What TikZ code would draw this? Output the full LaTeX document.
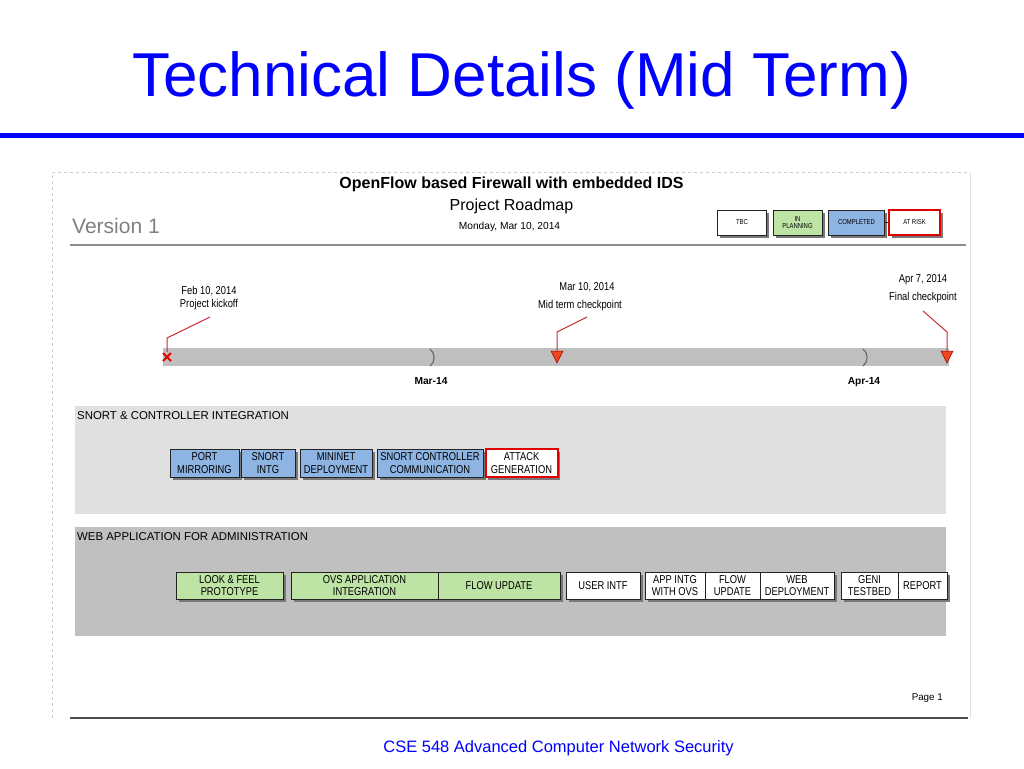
\documentclass[tikz,border=0pt]{standalone}
\usepackage{fontspec}
\setmainfont{Liberation Sans}
\newfontfamily\nar[FakeStretch=0.82]{Liberation Sans}
\usetikzlibrary{shadows}
\definecolor{titleblue}{RGB}{0,0,255}
\definecolor{boxblue}{RGB}{141,180,226}
\definecolor{boxgreen}{RGB}{190,228,165}
\definecolor{riskred}{RGB}{225,0,0}
\definecolor{boxborder}{RGB}{35,35,35}
\definecolor{shadowgray}{RGB}{120,120,120}
\definecolor{snortbg}{RGB}{224,224,224}
\definecolor{webbg}{RGB}{192,192,192}
\definecolor{bargray}{RGB}{191,191,191}
\definecolor{calloutred}{RGB}{200,45,55}
\definecolor{markred}{RGB}{240,70,30}
\definecolor{framegray}{RGB}{205,205,205}
\tikzset{
  task/.style={draw=boxborder, line width=1pt, inner sep=0pt, minimum height=28pt, align=center,
    font=\nar\fontsize{11.4}{12.3}\selectfont,
    drop shadow={shadow xshift=2.5pt, shadow yshift=-2.5pt, fill=shadowgray, opacity=1}},
  donebox/.style={task, fill=boxblue},
  planbox/.style={task, fill=boxgreen},
  tbcbox/.style={task, fill=white},
  riskbox/.style={task, fill=white, draw=riskred, line width=2pt},
  legend/.style={font=\nar\fontsize{7.2}{7.6}\selectfont, minimum height=25pt},
  callout/.style={draw=calloutred, line width=1pt},
  tllabel/.style={anchor=base, inner sep=0pt, font=\nar\fontsize{11.4}{12}\selectfont},
  monthlabel/.style={anchor=base, inner sep=0pt, font=\bfseries\fontsize{10.2}{12}\selectfont},
  sectitle/.style={anchor=base west, inner sep=0pt, font=\fontsize{11.4}{12}\selectfont},
  sep/.style={draw=black!60, line width=1.1pt}
}
\begin{document}
\begin{tikzpicture}[x=1pt,y=-1pt]
\useasboundingbox (0,0) rectangle (1024,768);
\fill[white] (0,0) rectangle (1024,768);

% slide title and rule
\node[anchor=base west, inner sep=0pt, text=titleblue, font=\fontsize{62}{70}\selectfont] (title) at (132,96) {Technical Details (Mid Term)};
\fill[titleblue] (0,133) rectangle (1024,138);

% embedded page frame
\draw[framegray, dashed, line width=0.8pt] (52,718) -- (52,172) -- (970,172);
\draw[framegray!60, line width=0.6pt] (970,172) -- (970,718);
\draw[black!70, line width=1.2pt] (70,718) -- (968,718);

% header
\node[anchor=base west, inner sep=0pt, text=black!50, font=\fontsize{21}{24}\selectfont] (version) at (72,233) {Version 1};
\draw[black!45, line width=2pt] (70,245) -- (966,245);
\node[anchor=base, inner sep=0pt, font=\bfseries\fontsize{16}{18}\selectfont] (head) at (511.5,188) {OpenFlow based Firewall with embedded IDS};
\node[anchor=base, inner sep=0pt, font=\fontsize{16}{18}\selectfont] (road) at (511.5,210) {Project Roadmap};
\node[anchor=base, inner sep=0pt, font=\fontsize{10.2}{12}\selectfont] (date) at (509.5,229) {Monday, Mar 10, 2014};

% legend
\node[tbcbox, legend, minimum width=49pt] (lgtbc) at (742,222.5) {TBC};
\node[planbox, legend, minimum width=49pt] (lgplan) at (797.5,222.5) {IN\\PLANNING};
\node[donebox, legend, minimum width=56pt] (lgdone) at (856.5,222.5) {COMPLETED};
\node[riskbox, legend, minimum width=51pt] (lgrisk) at (914.5,222.5) {AT RISK};
\draw[boxborder, line width=0.8pt] (lgdone.east) -- (lgrisk.west);

% timeline bar
\fill[bargray] (163,348) rectangle (949,366);
\draw[sep] (430,349) .. controls (435.5,353) and (435.5,362) .. (430,366);
\draw[sep] (863,349) .. controls (868.5,353) and (868.5,362) .. (863,366);
\node[monthlabel] (mar) at (431,384) {Mar-14};
\node[monthlabel] (apr) at (864,384) {Apr-14};

% milestones
\coordinate (mkick) at (167,352);
\coordinate (mmid) at (557,351);
\coordinate (mfin) at (947,351);
\draw[red!90!black, line width=1.9pt] (163,353) -- (171,361) (163,361) -- (171,353);
\fill[markred, draw=riskred!70!black, line width=0.5pt] (551,351) -- (563,351) -- (557,363) -- cycle;
\fill[markred, draw=riskred!70!black, line width=0.5pt] (941,351) -- (953,351) -- (947,363) -- cycle;

\node[tllabel] (kd) at (209,294) {Feb 10, 2014};
\node[tllabel] (kt) at (209,307.5) {Project kickoff};
\node[tllabel] (md) at (587,290) {Mar 10, 2014};
\node[tllabel] (mt) at (580,308) {Mid term checkpoint};
\node[tllabel] (fd) at (923,282) {Apr 7, 2014};
\node[tllabel] (ft) at (923,300.5) {Final checkpoint};

\coordinate (ck1) at (210,317);
\coordinate (ck2) at (167,338);
\coordinate (cm1) at (587,317);
\coordinate (cm2) at (557,332);
\coordinate (cf1) at (923,311);
\coordinate (cf2) at (947,332);
\draw[callout] (ck1) -- (ck2) -- (mkick);
\draw[callout] (cm1) -- (cm2) -- (mmid);
\draw[callout] (cf1) -- (cf2) -- (mfin);

% snort section
\fill[snortbg] (75,406) rectangle (946,514);
\node[sectitle] (snorttitle) at (77,419) {SNORT \& CONTROLLER INTEGRATION};
\node[donebox, minimum width=69pt] (port) at (204.5,463) {PORT\\MIRRORING};
\node[donebox, minimum width=54pt] (sintg) at (268,463) {SNORT\\INTG};
\node[donebox, minimum width=72pt] (mininet) at (336,463) {MININET\\DEPLOYMENT};
\node[donebox, minimum width=106pt] (scc) at (430,463) {SNORT CONTROLLER\\COMMUNICATION};
\node[riskbox, minimum width=72pt] (attack) at (521.5,463) {ATTACK\\GENERATION};

% web section
\fill[webbg] (75,527) rectangle (946,636);
\node[sectitle] (webtitle) at (77,540) {WEB APPLICATION FOR ADMINISTRATION};
\node[planbox, minimum width=107pt, minimum height=27pt] (look) at (229.5,585.5) {LOOK \& FEEL\\PROTOTYPE};
\node[planbox, minimum width=147pt, minimum height=27pt] (ovs) at (364.5,585.5) {OVS APPLICATION\\INTEGRATION};
\node[planbox, minimum width=122pt, minimum height=27pt] (flowa) at (499,585.5) {FLOW UPDATE};
\node[tbcbox, minimum width=74pt, minimum height=27pt] (user) at (603,585.5) {USER INTF};
\node[tbcbox, minimum width=60pt, minimum height=27pt] (appintg) at (675,585.5) {APP INTG\\WITH OVS};
\node[tbcbox, minimum width=55pt, minimum height=27pt] (flowb) at (732.5,585.5) {FLOW\\UPDATE};
\node[tbcbox, minimum width=74pt, minimum height=27pt] (webdep) at (797,585.5) {WEB\\DEPLOYMENT};
\node[tbcbox, minimum width=57pt, minimum height=27pt] (geni) at (869.5,585.5) {GENI\\TESTBED};
\node[tbcbox, minimum width=49pt, minimum height=27pt] (report) at (922.5,585.5) {REPORT};

% footer
\node[anchor=base east, inner sep=0pt, font=\fontsize{9.8}{12}\selectfont] (page) at (943,700) {Page 1};
\node[anchor=base, inner sep=0pt, text=titleblue, font=\fontsize{16.5}{18}\selectfont] (course) at (558.5,752) {CSE 548 Advanced Computer Network Security};
\end{tikzpicture}
\end{document}
